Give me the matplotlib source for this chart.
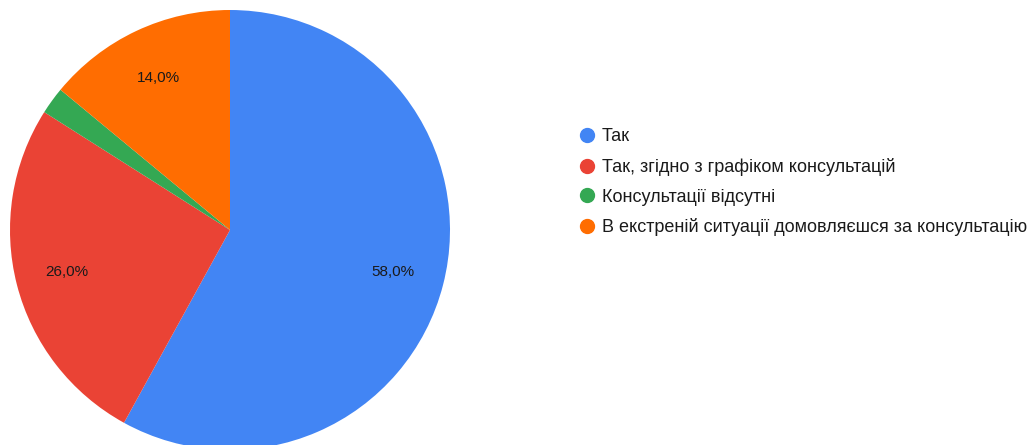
import matplotlib.pyplot as plt
from matplotlib.lines import Line2D

plt.rcParams['font.family'] = ['Liberation Sans', 'DejaVu Sans']

labels = [
    'Так',
    'Так, згідно з графіком консультацій',
    'Консультації відсутні',
    'В екстреній ситуації домовляєшся за консультацію',
]
shares = [58.0, 26.0, 2.0, 14.0]
colors = ['#4285F4', '#EA4335', '#34A853', '#FF6D01']

W, H = 1035, 445
fig = plt.figure(figsize=(W / 100, H / 100), dpi=100)

# pie centre (230, 230) px from top-left, radius 220 px
cx, cy, r = 230, 230, 220
ax = fig.add_axes([(cx - r) / W, (H - cy - r) / H, 2 * r / W, 2 * r / H])


def fmt(p):
    # tiny slice gets no label
    return f'{p:.1f}%'.replace('.', ',') if p >= 5 else ''


ax.pie(shares, colors=colors, startangle=90, counterclock=False,
       autopct=fmt, pctdistance=0.765, radius=1.0,
       wedgeprops=dict(linewidth=0),
       textprops=dict(fontsize=11, color='#1a1a1a'))
ax.set_xlim(-1, 1)
ax.set_ylim(-1, 1)
ax.set_aspect('equal')
ax.axis('off')

handles = [Line2D([], [], marker='o', linestyle='', markersize=10,
                  markerfacecolor=c, markeredgecolor=c) for c in colors]
fig.legend(handles, labels, loc='upper left',
           bbox_to_anchor=(570 / W, 1 - 121 / H), frameon=False,
           fontsize=13, handletextpad=0.25, labelspacing=0.7,
           handlelength=1.1, borderaxespad=0, labelcolor='#1a1a1a')

fig.savefig('out.png', dpi=100)
